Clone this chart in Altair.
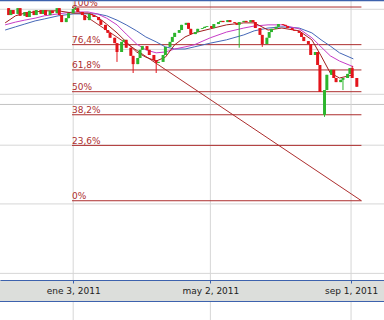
import altair as alt
import pandas as pd
import numpy as np

# ---- data ----
# closes, one candle for every second trading day starting 2010-11-08
closes = [9.85, 9.98, 9.88, 10.03, 9.83, 9.93, 9.80, 9.96, 9.85, 9.98,
          9.88, 9.98, 9.85, 9.96, 9.90, 10.03, 9.85, 9.67, 9.77, 9.90,
          10.01, 10.03, 9.93, 9.85, 9.72, 9.88, 9.85, 9.80, 9.72, 9.60,
          9.47, 9.40, 9.28, 9.15, 8.94, 9.18, 9.23, 9.04, 8.85, 8.66,
          8.80, 8.99, 9.08, 8.99, 8.87, 8.75, 8.69, 8.71, 8.87, 9.06,
          9.18, 9.30, 9.40, 9.47, 9.60, 9.65, 9.50, 9.37, 9.42, 9.50,
          9.52, 9.55, 9.57, 9.52, 9.62, 9.67, 9.70, 9.67, 9.72, 9.67,
          9.65, 9.60, 9.67, 9.70, 9.67, 9.72, 9.67, 9.52, 9.35, 9.13,
          9.28, 9.42, 9.50, 9.55, 9.62, 9.60, 9.57, 9.52, 9.47, 9.45,
          9.40, 9.30, 9.20, 9.13, 8.87, 8.94, 8.64, 8.05, 8.09, 8.42,
          8.53, 8.35, 8.26, 8.31, 8.35, 8.44, 8.57, 8.35, 8.16]
first_open = 10.03
open_overrides = {98: 7.58}
low_overrides = {34: 8.71, 39: 8.46, 46: 8.46, 72: 9.04, 79: 9.06, 98: 7.54, 104: 8.09}
high_overrides = {21: 10.06, 107: 8.62}

ma_dates = ["2010-11-05", "2010-11-14", "2010-11-22", "2010-12-01", "2010-12-09",
            "2010-12-21", "2011-01-03", "2011-01-16", "2011-01-24", "2011-02-01",
            "2011-02-10", "2011-02-18", "2011-02-27", "2011-03-07", "2011-03-16",
            "2011-03-24", "2011-04-01", "2011-04-10", "2011-04-18", "2011-05-02",
            "2011-05-16", "2011-05-31", "2011-06-09", "2011-06-21", "2011-07-03",
            "2011-07-18", "2011-07-29", "2011-08-06", "2011-08-14", "2011-08-22",
            "2011-09-03"]
ma_blue = [9.47, 9.55, 9.62, 9.70, 9.75, 9.83, 9.88, 9.88, 9.88, 9.83,
           9.72, 9.60, 9.45, 9.30, 9.18, 9.06, 9.01, 9.01, 9.06, 9.15,
           9.23, 9.35, 9.45, 9.52, 9.55, 9.52, 9.40, 9.23, 9.08, 8.92, 8.78]
ma_magenta = [9.60, 9.67, 9.72, 9.77, 9.83, 9.88, 9.93, 9.93, 9.88, 9.77,
              9.60, 9.37, 9.13, 8.99, 8.92, 8.94, 9.01, 9.06, 9.11, 9.28,
              9.42, 9.52, 9.57, 9.60, 9.60, 9.50, 9.28, 9.06, 8.85, 8.73, 8.60]
ma_darkred = [9.65, 9.83, 9.90, 9.93, 9.96, 9.96, 9.90, 9.90, 9.80, 9.62,
              9.40, 9.18, 8.94, 8.82, 8.73, 8.82, 9.11, 9.30, 9.40, 9.50,
              9.60, 9.65, 9.65, 9.47, 9.52, 9.45, 9.23, 8.85, 8.46, 8.35, 8.42]

fib_ratios = [1.0, 0.764, 0.618, 0.5, 0.382, 0.236, 0.0]
fib_labels = ["100%", "76,4%", "61,8%", "50%", "38,2%", "23,6%", "0%"]
fib_high = 10.06
fib_low = 6.05
fib_start = "2011-01-02"
fib_end = "2011-09-10"

grid_prices = [5, 6, 7, 8, 9, 10]
extra_grid = [7.79]
tick_dates = ["2011-01-03", "2011-05-02", "2011-09-01"]
month_names = ['ene', 'feb', 'mar', 'abr', 'may', 'jun', 'jul', 'ago', 'sep', 'oct', 'nov', 'dic']


def ms(s):
    """date string -> UTC epoch milliseconds"""
    return int(pd.Timestamp(s, tz="UTC").value // 10**6)


# ---- tables ----
dates = pd.bdate_range("2010-11-08", periods=len(closes), freq="2B").strftime("%Y-%m-%d")
opens = [first_open] + closes[:-1]
for k, v in open_overrides.items():
    opens[k] = v
highs = [high_overrides.get(i, max(o, c)) for i, (o, c) in enumerate(zip(opens, closes))]
lows = [low_overrides.get(i, min(o, c)) for i, (o, c) in enumerate(zip(opens, closes))]
candles = pd.DataFrame({"t": [ms(d) for d in dates], "open": opens, "close": closes,
                        "high": highs, "low": lows})
candles["dir"] = np.where(candles["close"] >= candles["open"], "up", "down")

fib = pd.DataFrame({
    "price": [fib_low + r * (fib_high - fib_low) for r in fib_ratios],
    "label": fib_labels,
    "start": ms(fib_start), "end": ms(fib_end)})
diag = pd.DataFrame({"start": [ms(fib_start)], "end": [ms(fib_end)],
                     "hi": [fib_high], "lo": [fib_low]})
ma = pd.DataFrame({"t": [ms(d) for d in ma_dates], "blue": ma_blue, "magenta": ma_magenta,
                   "darkred": ma_darkred})
hgrid = pd.DataFrame({"price": grid_prices})
hgrid2 = pd.DataFrame({"price": extra_grid})
vgrid = pd.DataFrame({"t": [ms(d) for d in tick_dates]})
one = pd.DataFrame({"k": [0]})

# ---- scales (layout) ----
W, H = 384, 320
x_a, x_b = 70.0, 355.3  # pixel positions of first and last tick
day = 86400000
pxday = (x_b - x_a) / ((ms(tick_dates[2]) - ms(tick_dates[0])) / day)
t0 = ms(tick_dates[0]) - x_a / pxday * day
t1 = ms(tick_dates[0]) + (W - x_a) / pxday * day
xscale = alt.Scale(type="linear", domain=[t0, t1], nice=False, zero=False)
yscale = alt.Scale(type="log", domain=[4.424, 10.247], nice=False, zero=False)

axis_color = "#3d62ad"
label_expr = ("%s[utcmonth(datum.value)] + ' ' + utcdate(datum.value) + ', ' + utcyear(datum.value)"
              % str(month_names))
xaxis = alt.Axis(values=[ms(d) for d in tick_dates], labelExpr=label_expr, orient="bottom",
                 offset=-40, domainColor=axis_color, tickColor=axis_color, tickSize=3,
                 labelFont="DejaVu Sans", labelFontSize=9, labelColor="#222222",
                 labelPadding=3, grid=False, title=None, zindex=1, labelFlush=False,
                 labelOverlap=False, labelBound=False)


def X(field):
    return alt.X(field, type="quantitative", scale=xscale, axis=xaxis)


def Y(field):
    return alt.Y(field, type="quantitative", scale=yscale, axis=None)


grid_col = "#d6d6d6"
fib_col = "#ad2e2e"

l_hgrid = alt.Chart(hgrid).mark_rule(color=grid_col, strokeWidth=1).encode(y=Y("price"))
l_hgrid2 = alt.Chart(hgrid2).mark_rule(color="#c2c2c2", strokeWidth=1).encode(y=Y("price"))
l_vgrid = alt.Chart(vgrid).mark_rule(color=grid_col, strokeWidth=1).encode(x=X("t"))

l_fib = alt.Chart(fib).mark_rule(color=fib_col, strokeWidth=1).encode(
    x=X("start"), x2="end", y=Y("price"))
l_fibtxt = alt.Chart(fib).mark_text(align="left", baseline="alphabetic", dy=-1.5,
                                    font="DejaVu Sans", fontSize=9, color=fib_col).encode(
    x=X("start"), y=Y("price"), text="label")
l_diag = alt.Chart(diag).mark_rule(color=fib_col, strokeWidth=1).encode(
    x=X("start"), x2="end", y=Y("hi"), y2="lo")

color = alt.Color("dir:N", scale=alt.Scale(domain=["up", "down"], range=["#2db52d", "#e3141b"]),
                  legend=None)
l_wick = alt.Chart(candles).mark_rule(strokeWidth=1).encode(
    x=X("t"), y=Y("low"), y2="high", color=color)
l_body = alt.Chart(candles).mark_bar(size=3).encode(
    x=X("t"), y=Y("open"), y2="close", color=color)

l_blue = alt.Chart(ma).mark_line(color="#4668b8", strokeWidth=1).encode(x=X("t"), y=Y("blue"))
l_mag = alt.Chart(ma).mark_line(color="#c73cc7", strokeWidth=1).encode(x=X("t"), y=Y("magenta"))
l_dred = alt.Chart(ma).mark_line(color="#a01e1e", strokeWidth=1).encode(x=X("t"), y=Y("darkred"))

l_band = alt.Chart(one).mark_rect(color="#dcdedb").encode(
    x=alt.value(0), x2=alt.value(W), y=alt.value(280), y2=alt.value(302))
l_band_bot = alt.Chart(one).mark_rule(color=axis_color, strokeWidth=1).encode(
    x=alt.value(0), x2=alt.value(W), y=alt.value(301.5))
l_top = alt.Chart(one).mark_rule(color=axis_color, strokeWidth=1.5).encode(
    x=alt.value(0), x2=alt.value(W), y=alt.value(0.5))

chart = alt.layer(
    l_hgrid, l_hgrid2, l_vgrid, l_fib, l_diag, l_fibtxt,
    l_blue, l_mag, l_dred, l_wick, l_body,
    l_band, l_band_bot, l_top
).properties(width=W, height=H, padding=0, autosize="none", background="white"
).configure_view(stroke=None)

chart.save("out.html", embed_options={"renderer": "svg", "actions": False})
